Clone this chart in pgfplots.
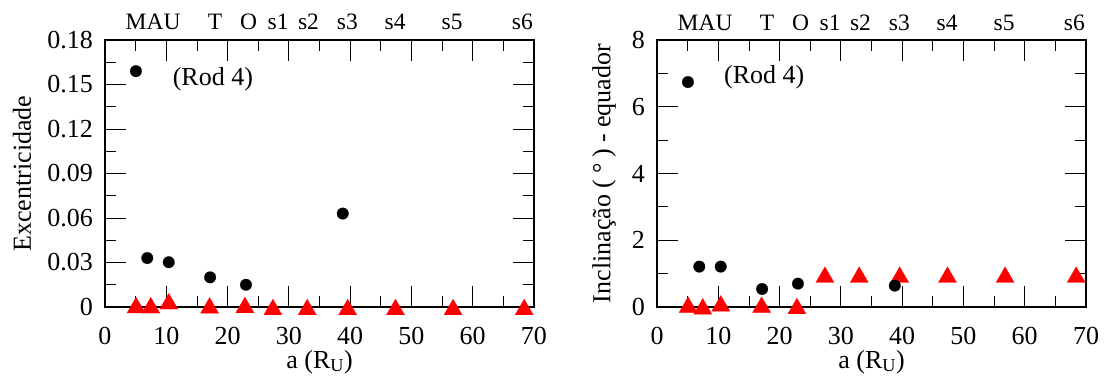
\documentclass[border=0pt]{standalone}
\usepackage{fontspec}
\setmainfont{Liberation Serif}
\usepackage{pgfplots}
\pgfplotsset{compat=1.18}

% shared look of both panels
\pgfplotsset{
  panel/.style={
    width=429bp, height=267bp, scale only axis,
    xmin=0, xmax=70, xtick={0,10,...,70}, minor x tick num=1,
    minor y tick num=1,
    tick align=inside, major tick length=21bp, minor tick length=11bp,
    every tick/.style={black, line width=0.8bp},
    axis line style={line width=1.2bp},
    clip=false,
    /pgf/number format/assume math mode=true,
    xticklabel style={anchor=north, inner sep=0pt, yshift=-20bp},
    yticklabel style={anchor=east, inner sep=0pt, xshift=-12bp},
    every axis x label/.style={at={(rel axis cs:0.5,0)}, anchor=base, yshift=-61bp},
    xlabel={a (R\textsubscript{U})},
  },
  ylab/.style={every axis y label/.style={at={(rel axis cs:0,0.5)}, xshift=-#1, rotate=90, anchor=center}},
  sim/.style={only marks, mark=*, mark size=5.8bp, black,
    mark options={fill=black, draw=black, line width=0.2bp}},
  obs/.style={only marks, mark=triangle*, mark size=10.5bp, red,
    mark options={fill=red, draw=red, line width=0.2bp, yshift=-2.6bp}},
}

% satellite names along the top edge
\newcommand\toplabels[1]{%
  \node[anchor=base, yshift=10bp, font=\fontsize{23.5bp}{28bp}\selectfont] at (axis cs:7.85,#1) {MAU};
  \node[anchor=base, yshift=10bp, font=\fontsize{23.5bp}{28bp}\selectfont] at (axis cs:17.95,#1) {T};
  \node[anchor=base, yshift=10bp, font=\fontsize{23.5bp}{28bp}\selectfont] at (axis cs:23.45,#1) {O};
  \node[anchor=base, yshift=10bp, font=\fontsize{23.5bp}{28bp}\selectfont] at (axis cs:28.25,#1) {s1};
  \node[anchor=base, yshift=10bp, font=\fontsize{23.5bp}{28bp}\selectfont] at (axis cs:33.2,#1) {s2};
  \node[anchor=base, yshift=10bp, font=\fontsize{23.5bp}{28bp}\selectfont] at (axis cs:39.55,#1) {s3};
  \node[anchor=base, yshift=10bp, font=\fontsize{23.5bp}{28bp}\selectfont] at (axis cs:47.35,#1) {s4};
  \node[anchor=base, yshift=10bp, font=\fontsize{23.5bp}{28bp}\selectfont] at (axis cs:56.65,#1) {s5};
  \node[anchor=base, yshift=10bp, font=\fontsize{23.5bp}{28bp}\selectfont] at (axis cs:68.1,#1) {s6};
}

\begin{document}
\fontsize{26bp}{31bp}\selectfont
\begin{tikzpicture}
% eccentricity
\begin{axis}[panel, ylab=83bp, at={(0,0)},
  ymin=0, ymax=0.18, ytick={0,0.03,0.06,0.09,0.12,0.15,0.18},
  yticklabels={0,0.03,0.06,0.09,0.12,0.15,0.18},
  ylabel={Excentricidade}]
\addplot[obs] coordinates {
  (5.08,0.0013) (7.47,0.0012) (10.41,0.0039) (17.07,0.0011) (22.83,0.0014)
  (27.4,0) (33.0,0) (39.6,0) (47.4,0) (56.8,0) (68.4,0)};
\addplot[sim] coordinates {
  (5.05,0.159) (6.9,0.033) (10.4,0.0302) (17.15,0.020) (23.0,0.015) (38.8,0.063)};
\node[anchor=center] at (axis cs:17.6,0.1535) {(Rod 4)};
\toplabels{0.18}
\end{axis}
% inclination
\begin{axis}[panel, ylab=53bp, at={(552bp,0)},
  ymin=0, ymax=8, ytick={0,2,4,6,8},
  ylabel={Inclinação (\hspace{0.22em}°\hspace{0.22em}) - equador}]
\addplot[obs] coordinates {
  (5.08,0.07) (7.47,0.02) (10.41,0.11) (17.07,0.07) (22.83,0.03)
  (27.4,0.97) (33.0,0.97) (39.6,0.97) (47.4,0.97) (56.8,0.97) (68.4,0.97)};
\addplot[sim] coordinates {
  (5.05,6.74) (6.9,1.21) (10.4,1.21) (17.15,0.54) (23.0,0.70) (38.8,0.64)};
\node[anchor=center] at (axis cs:17.5,6.87) {(Rod 4)};
\toplabels{8}
\end{axis}
\pgfresetboundingbox
\path[use as bounding box] (-105bp,-74bp) rectangle (1002bp,307bp);
\end{tikzpicture}
\end{document}
